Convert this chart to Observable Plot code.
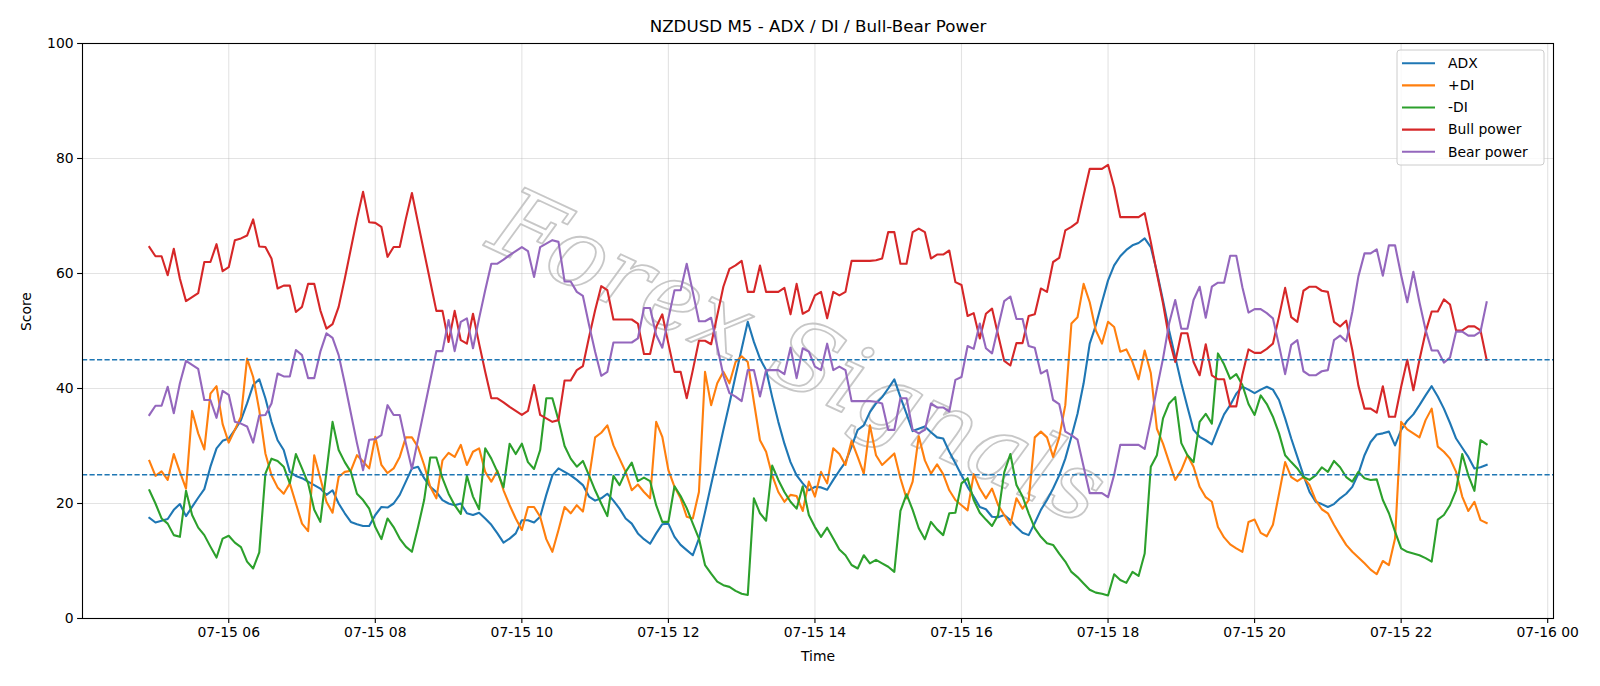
<!DOCTYPE html>
<html>
<head>
<meta charset="utf-8">
<script src="https://cdn.jsdelivr.net/npm/d3@7"></script>
<script src="https://cdn.jsdelivr.net/npm/@observablehq/plot@0.6"></script>
<style>
  html, body { margin: 0; padding: 0; background: #fff; }
  #chart svg { display: block; }
</style>
</head>
<body>
<div id="chart"></div>
<script>
// NZDUSD M5 indicator series, one value per 5-minute bar
const chartTitle = "NZDUSD M5 - ADX / DI / Bull-Bear Power";
const watermark = "Forex Signals";
const seriesNames = ["ADX", "+DI", "-DI", "Bull power", "Bear power"];
const seriesColors = ["#1f77b4", "#ff7f0e", "#2ca02c", "#d62728", "#9467bd"];
const startTime = "2025-07-15T04:55:00Z";
const stepMinutes = 5;

const adx = [
  17.5,16.7,17.0,17.3,18.9,19.9,17.8,19.4,21.0,22.5,
  26.4,29.6,30.9,31.3,32.8,34.5,37.4,40.6,41.6,38.3,
  34.2,31.0,29.3,25.5,24.8,24.4,23.8,23.2,22.6,21.5,
  22.3,20.0,18.3,16.8,16.4,16.1,16.1,18.0,19.4,19.3,
  20.0,21.5,23.8,26.1,26.4,24.4,22.9,22.0,20.6,20.0,
  19.7,20.0,18.3,18.0,18.4,17.4,16.3,14.8,13.2,13.9,
  14.8,17.1,17.1,16.7,17.7,21.5,24.9,26.1,25.5,24.9,
  24.1,23.2,21.2,20.5,20.9,21.7,20.5,19.1,17.4,16.5,
  14.8,13.8,13.0,14.8,16.4,16.5,14.2,12.8,11.9,11.0,
  13.9,18.5,23.3,28.0,32.8,37.4,42.2,46.9,51.6,48.1,
  45.2,43.2,38.5,34.2,30.4,27.2,24.9,23.5,22.3,22.9,
  22.8,22.4,24.1,25.7,27.2,29.9,32.8,33.6,35.9,37.4,
  38.5,40.0,41.6,38.5,35.6,32.6,33.0,33.4,32.4,31.5,
  31.3,29.0,27.0,24.9,22.9,21.2,19.4,19.0,17.7,17.6,
  18.0,17.1,15.9,14.9,14.5,16.6,18.9,20.6,22.6,24.9,
  27.8,31.6,35.6,40.9,47.8,51.0,55.0,58.8,61.4,63.0,
  64.1,64.9,65.3,66.1,64.6,60.3,55.3,50.1,45.5,40.9,
  36.8,32.8,31.6,31.0,30.3,33.0,35.5,37.1,39.1,40.3,
  39.8,39.2,39.8,40.3,39.8,38.0,34.8,31.3,28.1,24.9,
  22.0,20.3,19.9,19.4,19.9,20.9,21.7,22.9,25.2,28.4,
  30.7,32.0,32.2,32.5,30.1,32.8,34.4,35.5,37.1,38.8,
  40.4,38.6,36.5,34.0,31.3,29.7,28.1,26.1,26.3,26.7
];

const plusDI = [
  27.4,24.8,25.6,24.1,28.6,25.5,22.6,36.1,32.2,29.4,
  39.1,40.4,33.8,30.6,32.8,35.1,45.2,42.0,36.2,28.7,
  24.9,22.8,21.7,23.5,20.0,16.5,15.2,28.4,24.4,20.3,
  18.4,24.6,25.5,25.7,28.4,27.3,26.1,31.6,26.7,25.3,
  26.1,28.1,31.5,31.5,29.8,26.7,22.9,20.9,27.5,28.8,
  28.1,30.2,26.7,29.0,29.6,25.5,23.8,25.7,22.3,19.7,
  17.4,15.4,19.4,19.4,17.7,13.8,11.6,15.4,19.4,18.3,
  19.7,18.6,24.4,31.5,32.3,33.6,30.1,27.8,25.5,22.3,
  23.3,22.0,20.9,34.2,31.6,25.8,22.9,20.9,17.7,17.4,
  22.0,42.9,37.1,40.9,42.9,40.9,44.6,45.6,44.6,37.7,
  31.0,29.0,24.9,22.0,20.3,21.5,21.3,18.7,23.8,21.2,
  25.5,23.5,29.6,28.6,26.7,30.9,28.1,25.2,33.6,28.4,
  26.7,27.7,28.7,24.4,20.9,23.8,31.7,27.5,25.2,26.8,
  25.1,22.3,20.6,19.7,18.8,25.1,22.6,20.9,22.6,19.7,
  18.0,16.3,20.9,19.1,20.6,31.5,32.5,31.5,28.1,31.5,
  37.1,51.3,52.4,58.2,55.0,50.1,47.8,51.6,50.7,46.4,
  46.8,44.6,41.6,46.6,42.7,33.0,30.4,27.2,24.1,25.8,
  28.4,26.4,22.9,21.1,20.3,15.9,14.1,12.9,12.2,11.6,
  16.8,17.2,14.9,14.3,16.3,21.7,27.2,24.6,23.9,24.6,
  23.2,20.6,19.0,18.3,16.3,14.5,12.8,11.6,10.6,9.6,
  8.5,7.7,10.0,9.3,13.9,34.2,32.9,32.2,31.5,34.5,
  36.5,29.9,29.0,27.8,25.5,21.2,18.7,20.3,17.1,16.6
];

const minusDI = [
  22.3,20.0,17.4,16.5,14.5,14.2,22.2,18.0,15.8,14.5,
  12.5,10.6,13.9,14.4,13.2,12.4,9.9,8.7,11.5,25.2,
  27.8,27.4,26.4,23.5,28.6,26.1,23.5,18.9,16.8,25.5,
  34.2,29.3,27.2,25.5,21.7,20.6,19.1,15.9,13.8,17.4,
  15.9,13.9,12.5,11.6,15.9,20.6,28.0,28.0,24.4,21.7,
  19.7,18.2,24.8,21.2,19.0,29.6,27.8,25.5,22.8,30.4,
  28.6,30.4,27.2,26.0,29.3,38.3,38.3,34.5,30.0,27.8,
  26.4,27.4,24.9,22.3,20.0,17.8,24.8,23.2,25.5,27.1,
  23.9,24.5,23.9,19.7,16.8,16.8,23.0,21.3,19.2,16.5,
  13.9,9.3,7.8,6.4,5.8,5.5,4.8,4.3,4.1,20.9,
  18.3,17.0,26.6,24.1,22.0,20.3,19.1,23.0,18.0,15.9,
  14.2,15.8,13.9,12.0,11.0,9.3,8.7,11.0,9.6,10.2,
  9.6,9.0,8.1,18.7,21.6,18.9,15.7,13.8,16.8,15.5,
  14.5,18.3,18.4,23.5,24.4,20.6,18.4,17.2,16.1,18.0,
  25.4,28.6,23.2,21.2,18.3,15.7,14.2,13.1,12.8,11.3,
  9.9,8.1,7.2,6.1,5.0,4.5,4.3,4.0,7.7,6.7,
  6.2,8.1,7.4,11.3,26.4,28.4,34.8,37.4,38.5,30.5,
  28.4,27.2,34.2,35.6,33.9,46.1,44.2,41.7,42.5,40.6,
  37.3,35.4,38.8,37.3,35.1,32.2,28.4,27.2,26.1,24.6,
  24.1,24.9,26.3,25.5,27.4,26.3,24.6,23.8,25.5,24.4,
  24.1,24.2,20.6,18.3,15.1,12.2,11.6,11.3,11.0,10.5,
  9.9,17.2,18.0,19.7,22.3,28.6,24.9,22.2,31.0,30.3
];

const bullPower = [
  64.6,63.0,63.0,59.7,64.3,59.1,55.2,55.9,56.6,62.0,
  62.0,65.1,60.4,61.1,65.8,66.1,66.6,69.4,64.7,64.6,
  62.6,57.4,57.9,57.9,53.3,54.2,58.2,58.2,53.6,50.4,
  51.2,54.2,59.1,64.3,69.5,74.2,68.9,68.8,68.1,62.9,
  64.6,64.6,69.5,74.0,68.8,63.7,58.6,53.5,53.5,48.1,
  53.5,48.4,47.8,53.0,47.8,42.9,38.3,38.3,37.6,36.8,
  36.1,35.4,36.1,40.6,35.4,34.8,34.2,34.5,41.4,41.4,
  43.2,43.9,48.9,53.6,57.8,57.1,52.0,52.0,52.0,52.0,
  51.3,46.0,46.0,50.7,52.9,47.8,42.9,42.9,38.3,43.2,
  48.3,48.3,47.7,52.7,57.7,60.8,61.4,62.2,56.8,56.8,
  61.4,56.8,56.8,56.8,57.5,52.9,58.2,53.0,53.6,56.2,
  56.8,52.2,56.8,56.2,56.8,62.2,62.2,62.2,62.2,62.3,
  62.6,67.2,67.2,61.7,61.7,67.2,67.8,67.2,62.6,63.3,
  63.3,64.0,58.5,58.0,52.6,53.1,48.7,53.0,53.9,49.3,
  44.8,44.0,47.9,47.9,52.6,52.9,57.4,56.8,62.0,62.7,
  67.5,68.1,68.9,73.6,78.2,78.2,78.2,78.9,75.0,69.8,
  69.8,69.8,69.8,70.5,65.5,60.0,54.8,48.7,44.6,49.6,
  49.6,44.6,42.3,47.7,42.3,41.6,41.6,36.9,36.9,42.4,
  46.8,46.2,46.2,46.9,47.8,52.5,57.5,52.4,51.6,57.0,
  57.7,57.7,57.0,56.8,51.6,50.8,51.8,46.7,40.5,36.5,
  36.5,35.8,40.4,35.1,35.1,40.3,45.0,39.7,45.0,49.8,
  53.4,53.4,55.5,54.6,50.1,50.1,50.8,50.8,50.1,45.0
];

const bearPower = [
  35.4,37.0,37.0,40.3,35.7,40.9,44.8,44.1,43.4,38.0,
  38.0,34.9,39.6,38.9,34.2,33.9,33.4,30.6,35.3,35.4,
  37.4,42.6,42.1,42.1,46.7,45.8,41.8,41.8,46.4,49.6,
  48.8,45.8,40.9,35.7,30.5,25.8,31.1,31.2,31.9,37.1,
  35.4,35.4,30.5,26.0,31.2,36.3,41.4,46.5,46.5,51.9,
  46.5,51.6,52.2,47.0,52.2,57.1,61.7,61.7,62.4,63.2,
  63.9,64.6,63.9,59.4,64.6,65.2,65.8,65.5,58.6,58.6,
  56.8,56.1,51.1,46.4,42.2,42.9,48.0,48.0,48.0,48.0,
  48.7,54.0,54.0,49.3,47.1,52.2,57.1,57.1,61.7,56.8,
  51.7,51.7,52.3,47.3,42.3,39.2,38.6,37.8,43.2,43.2,
  38.6,43.2,43.2,43.2,42.5,47.1,41.8,47.0,46.4,43.8,
  43.2,47.8,43.2,43.8,43.2,37.8,37.8,37.8,37.8,37.7,
  37.4,32.8,32.8,38.3,38.3,32.8,32.2,32.8,37.4,36.7,
  36.7,36.0,41.5,42.0,47.4,46.9,51.3,47.0,46.1,50.7,
  55.2,56.0,52.1,52.1,47.4,47.1,42.6,43.2,38.0,37.3,
  32.5,31.9,31.1,26.4,21.8,21.8,21.8,21.1,25.0,30.2,
  30.2,30.2,30.2,29.5,34.5,40.0,45.2,51.3,55.4,50.4,
  50.4,55.4,57.7,52.3,57.7,58.4,58.4,63.1,63.1,57.6,
  53.2,53.8,53.8,53.1,52.2,47.5,42.5,47.6,48.4,43.0,
  42.3,42.3,43.0,43.2,48.4,49.2,48.2,53.3,59.5,63.5,
  63.5,64.2,59.6,64.9,64.9,59.7,55.0,60.3,55.0,50.2,
  46.6,46.6,44.5,45.4,49.9,49.9,49.2,49.2,49.9,55.0
];

// Reference levels drawn as dashed horizontal rules
const thresholds = [45, 25];

// Axis ticks
const xTicks = [
  "2025-07-15T06:00:00Z", "2025-07-15T08:00:00Z", "2025-07-15T10:00:00Z",
  "2025-07-15T12:00:00Z", "2025-07-15T14:00:00Z", "2025-07-15T16:00:00Z",
  "2025-07-15T18:00:00Z", "2025-07-15T20:00:00Z", "2025-07-15T22:00:00Z",
  "2025-07-16T00:00:00Z"
];
const yTicks = [0, 20, 40, 60, 80, 100];

// ---- assemble long-format rows for Plot ----
const t0 = new Date(startTime).getTime();
const stepMs = stepMinutes * 60 * 1000;
const seriesValues = [adx, plusDI, minusDI, bullPower, bearPower];
const rows = seriesValues.flatMap((values, s) =>
  values.map((value, i) => ({ series: seriesNames[s], time: new Date(t0 + i * stepMs), value }))
);
const tEnd = t0 + (adx.length - 1) * stepMs;
const pad = (tEnd - t0) * 0.05;
const xTickDates = xTicks.map((d) => new Date(d));

const font = "'DejaVu Sans', 'Liberation Sans', sans-serif";
const gridStyle = { stroke: "#b0b0b0", strokeOpacity: 0.35, strokeWidth: 1.1 };

const chart = Plot.plot({
  width: 1600,
  height: 686,
  marginLeft: 82,
  marginRight: 47,
  marginTop: 43,
  marginBottom: 68,
  style: { fontFamily: font, fontSize: "13.9px", color: "#000", background: "#fff", overflow: "visible" },
  x: { type: "utc", domain: [new Date(t0 - pad), new Date(tEnd + pad)] },
  y: { domain: [0, 100] },
  color: { domain: seriesNames, range: seriesColors },
  marks: [
    Plot.gridX(xTickDates, gridStyle),
    Plot.gridY(yTicks, gridStyle),
    // faint diagonal outlined watermark behind the series
    Plot.text([watermark], {
      text: (d) => d, frameAnchor: "middle", dx: -20, dy: 27, rotate: 25,
      fontSize: 96, fontStyle: "italic", fontFamily: "'DejaVu Serif', serif",
      fill: "none", stroke: "#bdbdbd", strokeWidth: 1.8, strokeOpacity: 0.85
    }),
    Plot.lineY(rows, {
      x: "time", y: "value", z: "series", stroke: "series",
      strokeWidth: 2.1, strokeLinejoin: "round", strokeLinecap: "square"
    }),
    Plot.ruleY(thresholds, { stroke: "#1f77b4", strokeWidth: 1.4, strokeDasharray: "5.2,2.3" }),
    Plot.frame({ stroke: "#000", strokeWidth: 1.1 }),
    Plot.axisX(xTickDates, {
      tickSize: 4.9, tickPadding: 4, tickFormat: d3.utcFormat("%m-%d %H"),
      label: null, fontSize: 13.9, strokeWidth: 1.1
    }),
    Plot.axisY(yTicks, { tickSize: 4.9, tickPadding: 4, label: null, fontSize: 13.9, strokeWidth: 1.1 }),
    Plot.text([chartTitle], { text: (d) => d, frameAnchor: "top", dy: -17, fontSize: 16.7, lineAnchor: "middle" }),
    Plot.text(["Time"], { text: (d) => d, frameAnchor: "bottom", dy: 38, fontSize: 13.9, lineAnchor: "middle" }),
    Plot.text(["Score"], { text: (d) => d, frameAnchor: "left", dx: -56, rotate: -90, fontSize: 13.9, lineAnchor: "middle" })
  ]
});

// ---- legend box in the upper right of the plot area ----
const svg = d3.select(chart);
const legend = svg.append("g")
  .attr("font-family", font)
  .attr("font-size", "13.9px")
  .attr("text-anchor", "start");
legend.append("rect")
  .attr("x", 1397).attr("y", 50).attr("width", 147).attr("height", 115)
  .attr("rx", 3).attr("fill", "#fff").attr("fill-opacity", 0.8)
  .attr("stroke", "#cccccc").attr("stroke-width", 1);
seriesNames.forEach((name, k) => {
  const y = 63.3 + k * 22.1;
  legend.append("line")
    .attr("x1", 1402).attr("x2", 1435).attr("y1", y).attr("y2", y)
    .attr("stroke", seriesColors[k]).attr("stroke-width", 2.1);
  legend.append("text")
    .attr("x", 1448).attr("y", y).attr("dy", "0.35em")
    .attr("text-anchor", "start")
    .attr("fill", "#000").text(name);
});

document.getElementById("chart").appendChild(chart);
</script>
</body>
</html>
